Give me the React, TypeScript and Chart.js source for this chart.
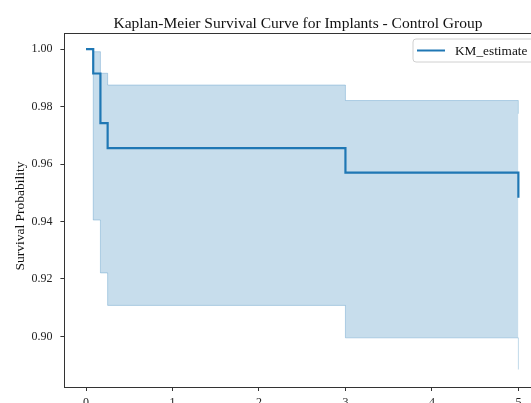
import React, { useEffect, useRef } from "react";
import { Chart, registerables } from "chart.js";

Chart.register(...registerables);

const times = [0, 1 / 12, 2 / 12, 0.25, 3, 5];
const kmEstimate = [1.0, 0.9915, 0.9742, 0.9655, 0.957, 0.9483];
const ciUpper = [1.0, 0.9991, 0.9916, 0.9875, 0.9821, 0.9775];
const ciLower = [1.0, 0.9405, 0.9221, 0.9108, 0.8995, 0.8885];
const xTicks = [0, 1, 2, 3, 4, 5];
const yTicks = [0.9, 0.92, 0.94, 0.96, 0.98, 1.0];

const titleText = "Kaplan-Meier Survival Curve for Implants - Control Group";
const yLabel = "Survival Probability";
const legendLabel = "KM_estimate";

const SERIF = "'Liberation Serif', 'Times New Roman', serif";
const C0 = "#1f77b4";

const W = 540;
const H = 420;

export default function App() {
  const ref = useRef<HTMLCanvasElement | null>(null);

  useEffect(() => {
    document.body.style.margin = "0";
    const canvas = ref.current;
    if (!canvas) return;

    const toPts = (ys: number[]) => times.map((t, i) => ({ x: t, y: ys[i] }));

    const decor = {
      id: "decor",
      afterDraw(chart: any) {
        const { ctx, chartArea } = chart;
        const { left, top, right, bottom } = chartArea;
        ctx.save();
        // frame
        ctx.strokeStyle = "#333";
        ctx.lineWidth = 1;
        ctx.strokeRect(Math.round(left) + 0.5, Math.round(top) + 0.5, Math.round(right - left), Math.round(bottom - top));
        // title
        ctx.fillStyle = "#111";
        ctx.font = `15.5px ${SERIF}`;
        ctx.textAlign = "center";
        ctx.textBaseline = "alphabetic";
        ctx.fillText(titleText, 298, 27.5);
        // y label
        ctx.save();
        ctx.translate(24, 216);
        ctx.rotate(-Math.PI / 2);
        ctx.font = `13.5px ${SERIF}`;
        ctx.fillText(yLabel, 0, 0);
        ctx.restore();
        // legend
        const lx = 413, ly = 39, lw = 123, lh = 23, r = 3;
        ctx.beginPath();
        ctx.moveTo(lx + r, ly);
        ctx.lineTo(lx + lw - r, ly);
        ctx.arcTo(lx + lw, ly, lx + lw, ly + r, r);
        ctx.lineTo(lx + lw, ly + lh - r);
        ctx.arcTo(lx + lw, ly + lh, lx + lw - r, ly + lh, r);
        ctx.lineTo(lx + r, ly + lh);
        ctx.arcTo(lx, ly + lh, lx, ly + lh - r, r);
        ctx.lineTo(lx, ly + r);
        ctx.arcTo(lx, ly, lx + r, ly, r);
        ctx.closePath();
        ctx.fillStyle = "rgba(255,255,255,0.85)";
        ctx.fill();
        ctx.strokeStyle = "#d0d0d0";
        ctx.lineWidth = 1;
        ctx.stroke();
        ctx.beginPath();
        ctx.moveTo(417, 50.5);
        ctx.lineTo(445, 50.5);
        ctx.strokeStyle = C0;
        ctx.lineWidth = 2;
        ctx.stroke();
        ctx.fillStyle = "#111";
        ctx.font = `13.3px ${SERIF}`;
        ctx.textAlign = "left";
        ctx.fillText(legendLabel, 455, 55);
        ctx.restore();
      },
    };

    const chart = new Chart(canvas, {
      type: "line",
      data: {
        datasets: [
          {
            label: legendLabel,
            data: toPts(kmEstimate),
            borderColor: C0,
            borderWidth: 2.2,
            stepped: "before",
            pointRadius: 0,
            fill: false,
          },
          {
            label: "upper",
            data: toPts(ciUpper),
            borderColor: "rgba(31,119,180,0.28)",
            backgroundColor: "rgba(31,119,180,0.25)",
            borderWidth: 1,
            stepped: "before",
            pointRadius: 0,
            fill: "+1",
          },
          {
            label: "lower",
            data: toPts(ciLower),
            borderColor: "rgba(31,119,180,0.28)",
            borderWidth: 1,
            stepped: "before",
            pointRadius: 0,
            fill: false,
          },
        ],
      },
      options: {
        responsive: false,
        animation: false,
        devicePixelRatio: 1,
        layout: { padding: { top: 33, left: 0, right: 0, bottom: 0 } },
        plugins: {
          legend: { display: false },
          title: { display: false },
          tooltip: { enabled: false },
        },
        scales: {
          x: {
            type: "linear",
            min: -0.25,
            max: 5.25,
            afterFit: (s: any) => {
              s.height = H - 387;
            },
            afterBuildTicks: (s: any) => {
              s.ticks = xTicks.map((v) => ({ value: v }));
            },
            grid: { display: true, drawOnChartArea: false, drawTicks: true, tickLength: 4, color: "#333" },
            border: { display: false },
            ticks: {
              padding: 5,
              color: "#222",
              font: { family: SERIF, size: 12 },
              maxRotation: 0,
              callback: (v: any) => String(v),
            },
          },
          y: {
            type: "linear",
            min: 0.8824,
            max: 1.0056,
            afterFit: (s: any) => {
              s.width = 64.4;
            },
            afterBuildTicks: (s: any) => {
              s.ticks = yTicks.map((v) => ({ value: v }));
            },
            grid: { display: true, drawOnChartArea: false, drawTicks: true, tickLength: 4, color: "#333" },
            border: { display: false },
            ticks: {
              padding: 8,
              color: "#222",
              font: { family: SERIF, size: 12 },
              callback: (v: any) => Number(v).toFixed(2),
            },
          },
        },
      },
      plugins: [decor],
    });

    return () => chart.destroy();
  }, []);

  return (
    <div style={{ width: 531, height: 403, overflow: "hidden", position: "relative", background: "#fff" }}>
      <canvas ref={ref} width={W} height={H} style={{ display: "block", width: W, height: H }} />
    </div>
  );
}
